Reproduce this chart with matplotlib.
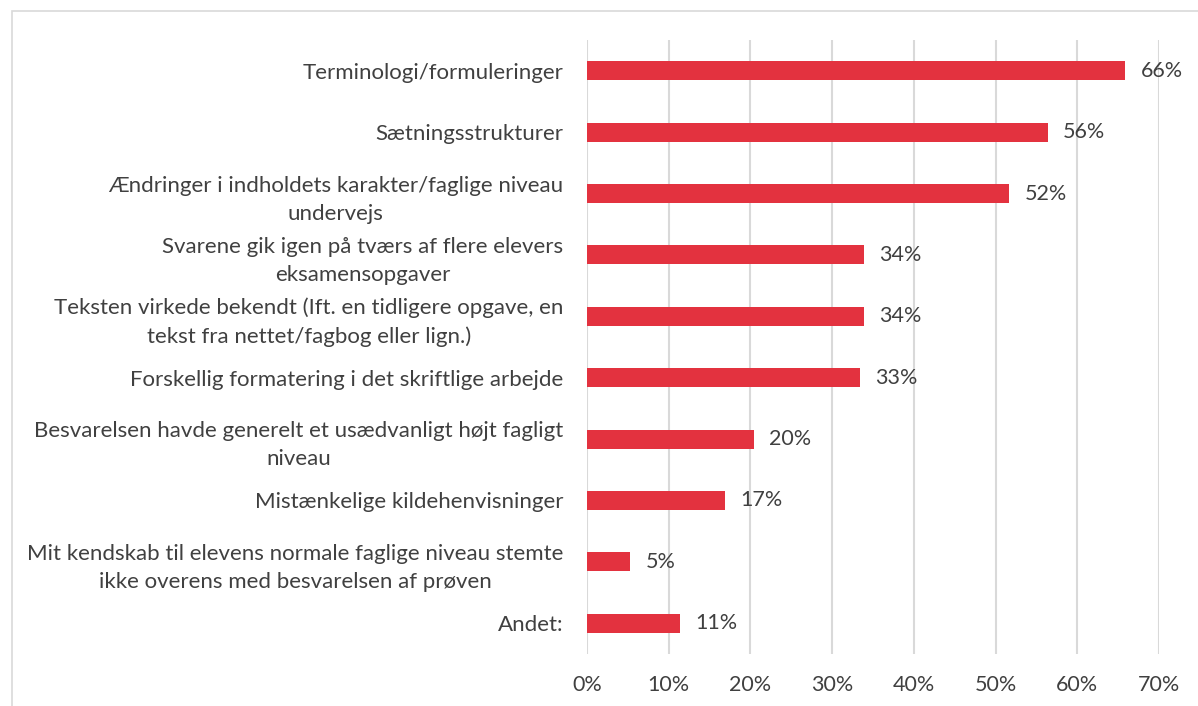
import matplotlib
matplotlib.use("Agg")
import matplotlib.pyplot as plt
from matplotlib.patches import Rectangle

categories = [
    "Terminologi/formuleringer",
    "Sætningsstrukturer",
    "Ændringer i indholdets karakter/faglige niveau\nundervejs",
    "Svarene gik igen på tværs af flere elevers\neksamensopgaver",
    "Teksten virkede bekendt (Ift. en tidligere opgave, en\ntekst fra nettet/fagbog eller lign.)",
    "Forskellig formatering i det skriftlige arbejde",
    "Besvarelsen havde generelt et usædvanligt højt fagligt\nniveau",
    "Mistænkelige kildehenvisninger",
    "Mit kendskab til elevens normale faglige niveau stemte\nikke overens med besvarelsen af prøven",
    "Andet:",
]
values = [65.9, 56.4, 51.7, 33.9, 33.9, 33.4, 20.4, 16.9, 5.3, 11.4]
xticks = [0, 10, 20, 30, 40, 50, 60, 70]

plt.rcParams['font.family'] = ['Lato', 'DejaVu Sans']
W, H = 1198, 706
fig = plt.figure(figsize=(W / 100, H / 100), dpi=100)
fig.patches.append(Rectangle((12 / W, -0.1), 1.2, 1 - 11 / H + 0.1, transform=fig.transFigure,
                             fill=False, edgecolor='#d9d9d9', linewidth=1.2))

ax = fig.add_axes([587 / W, 1 - 654 / H, (1159 - 587) / W, (654 - 40) / H])
ypos = list(range(len(categories)))
ax.barh(ypos, values, height=0.31, color='#E3323F', zorder=3)
ax.set_ylim(len(categories) - 0.5, -0.5)
ax.set_xlim(0, 70)
ax.set_xticks(xticks)
ax.set_xticklabels([f"{t}%" for t in xticks], fontsize=15.5, color='#404040')
ax.set_yticks(ypos)
ax.set_yticklabels(categories, fontsize=16, color='#404040', multialignment='center',
                   linespacing=1.5)
ax.tick_params(axis='both', length=0)
ax.tick_params(axis='y', pad=17)
ax.tick_params(axis='x', pad=15)
ax.grid(axis='x', color='#d9d9d9', linewidth=1.5, zorder=0)
for s in ax.spines.values():
    s.set_visible(False)
for y, v in zip(ypos, values):
    ax.annotate(f"{round(v)}%", (v, y), xytext=(11, 0), textcoords='offset points',
                va='center', ha='left', fontsize=15.5, color='#404040')

fig.savefig("out.png", dpi=100)
